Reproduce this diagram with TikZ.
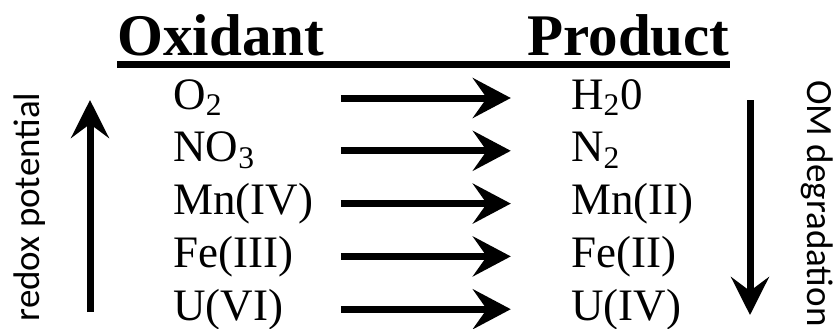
\documentclass[tikz,border=0pt]{standalone}
\usepackage{fontspec}
\setmainfont{Liberation Serif}
\newfontfamily\sidefont{Carlito}
\usetikzlibrary{positioning, arrows.meta}
\tikzstyle{heading} = [inner sep=0pt, anchor=base west, font=\fontsize{29.5}{32}\selectfont\bfseries]
\tikzstyle{species} = [inner sep=0pt, text width=83.5pt, text height=15pt, text depth=4pt, align=left, font=\fontsize{22.5}{24}\selectfont]
\tikzstyle{sidelabel} = [inner sep=0pt, font=\sidefont\fontsize{18.5}{20}\selectfont]
\tikzstyle{arrow} = [line width=3.5pt, -{Stealth[length=19pt, width=20pt, inset=7pt]}, shorten >=30pt]
\tikzstyle{trend} = [line width=3.5pt, -{Stealth[length=19pt, width=19pt, inset=7pt]}]

\begin{document}
\begin{tikzpicture}[node distance=7pt]
        \useasboundingbox (0,0) rectangle (417.5pt,-164pt);
        \node (hox) [heading] at (58.5pt,-27.5pt) {Oxidant};
        \node (hpr) [heading] at (263.5pt,-27.5pt) {Product};
        \draw[line width=3.5pt] ([yshift=-4.75pt]hox.base west) -- ([yshift=-4.75pt]hpr.base east);

        \node (ox1) [species, anchor=west] at (86.5pt,-49pt) {O\textsubscript{2}};
        \node (ox2) [species, below=of ox1] {NO\textsubscript{3}};
        \node (ox3) [species, below=of ox2] {Mn(IV)};
        \node (ox4) [species, below=of ox3] {Fe(III)};
        \node (ox5) [species, below=of ox4] {U(VI)};
        \node (pr1) [species, right=115pt of ox1] {H\textsubscript{2}0};
        \node (pr2) [species, right=115pt of ox2] {N\textsubscript{2}};
        \node (pr3) [species, right=115pt of ox3] {Mn(II)};
        \node (pr4) [species, right=115pt of ox4] {Fe(II)};
        \node (pr5) [species, right=115pt of ox5] {U(IV)};

        \draw[arrow] (ox1) -- (pr1);
        \draw[arrow] (ox2) -- (pr2);
        \draw[arrow] (ox3) -- (pr3);
        \draw[arrow] (ox4) -- (pr4);
        \draw[arrow] (ox5) -- (pr5);

        \node (redox) [sidelabel, rotate=90] at (15pt,-103.5pt) {redox potential};
        \coordinate (redoxlow) at (45pt,-156pt);
        \coordinate (redoxhigh) at (45pt,-50pt);
        \draw[trend] (redoxlow) -- (redoxhigh);

        \node (omdeg) [sidelabel, rotate=-90] at (408.5pt,-101.75pt) {OM degradation};
        \coordinate (omstart) at (375pt,-50pt);
        \coordinate (omend) at (375pt,-157.5pt);
        \draw[trend] (omstart) -- (omend);
\end{tikzpicture}
\end{document}
